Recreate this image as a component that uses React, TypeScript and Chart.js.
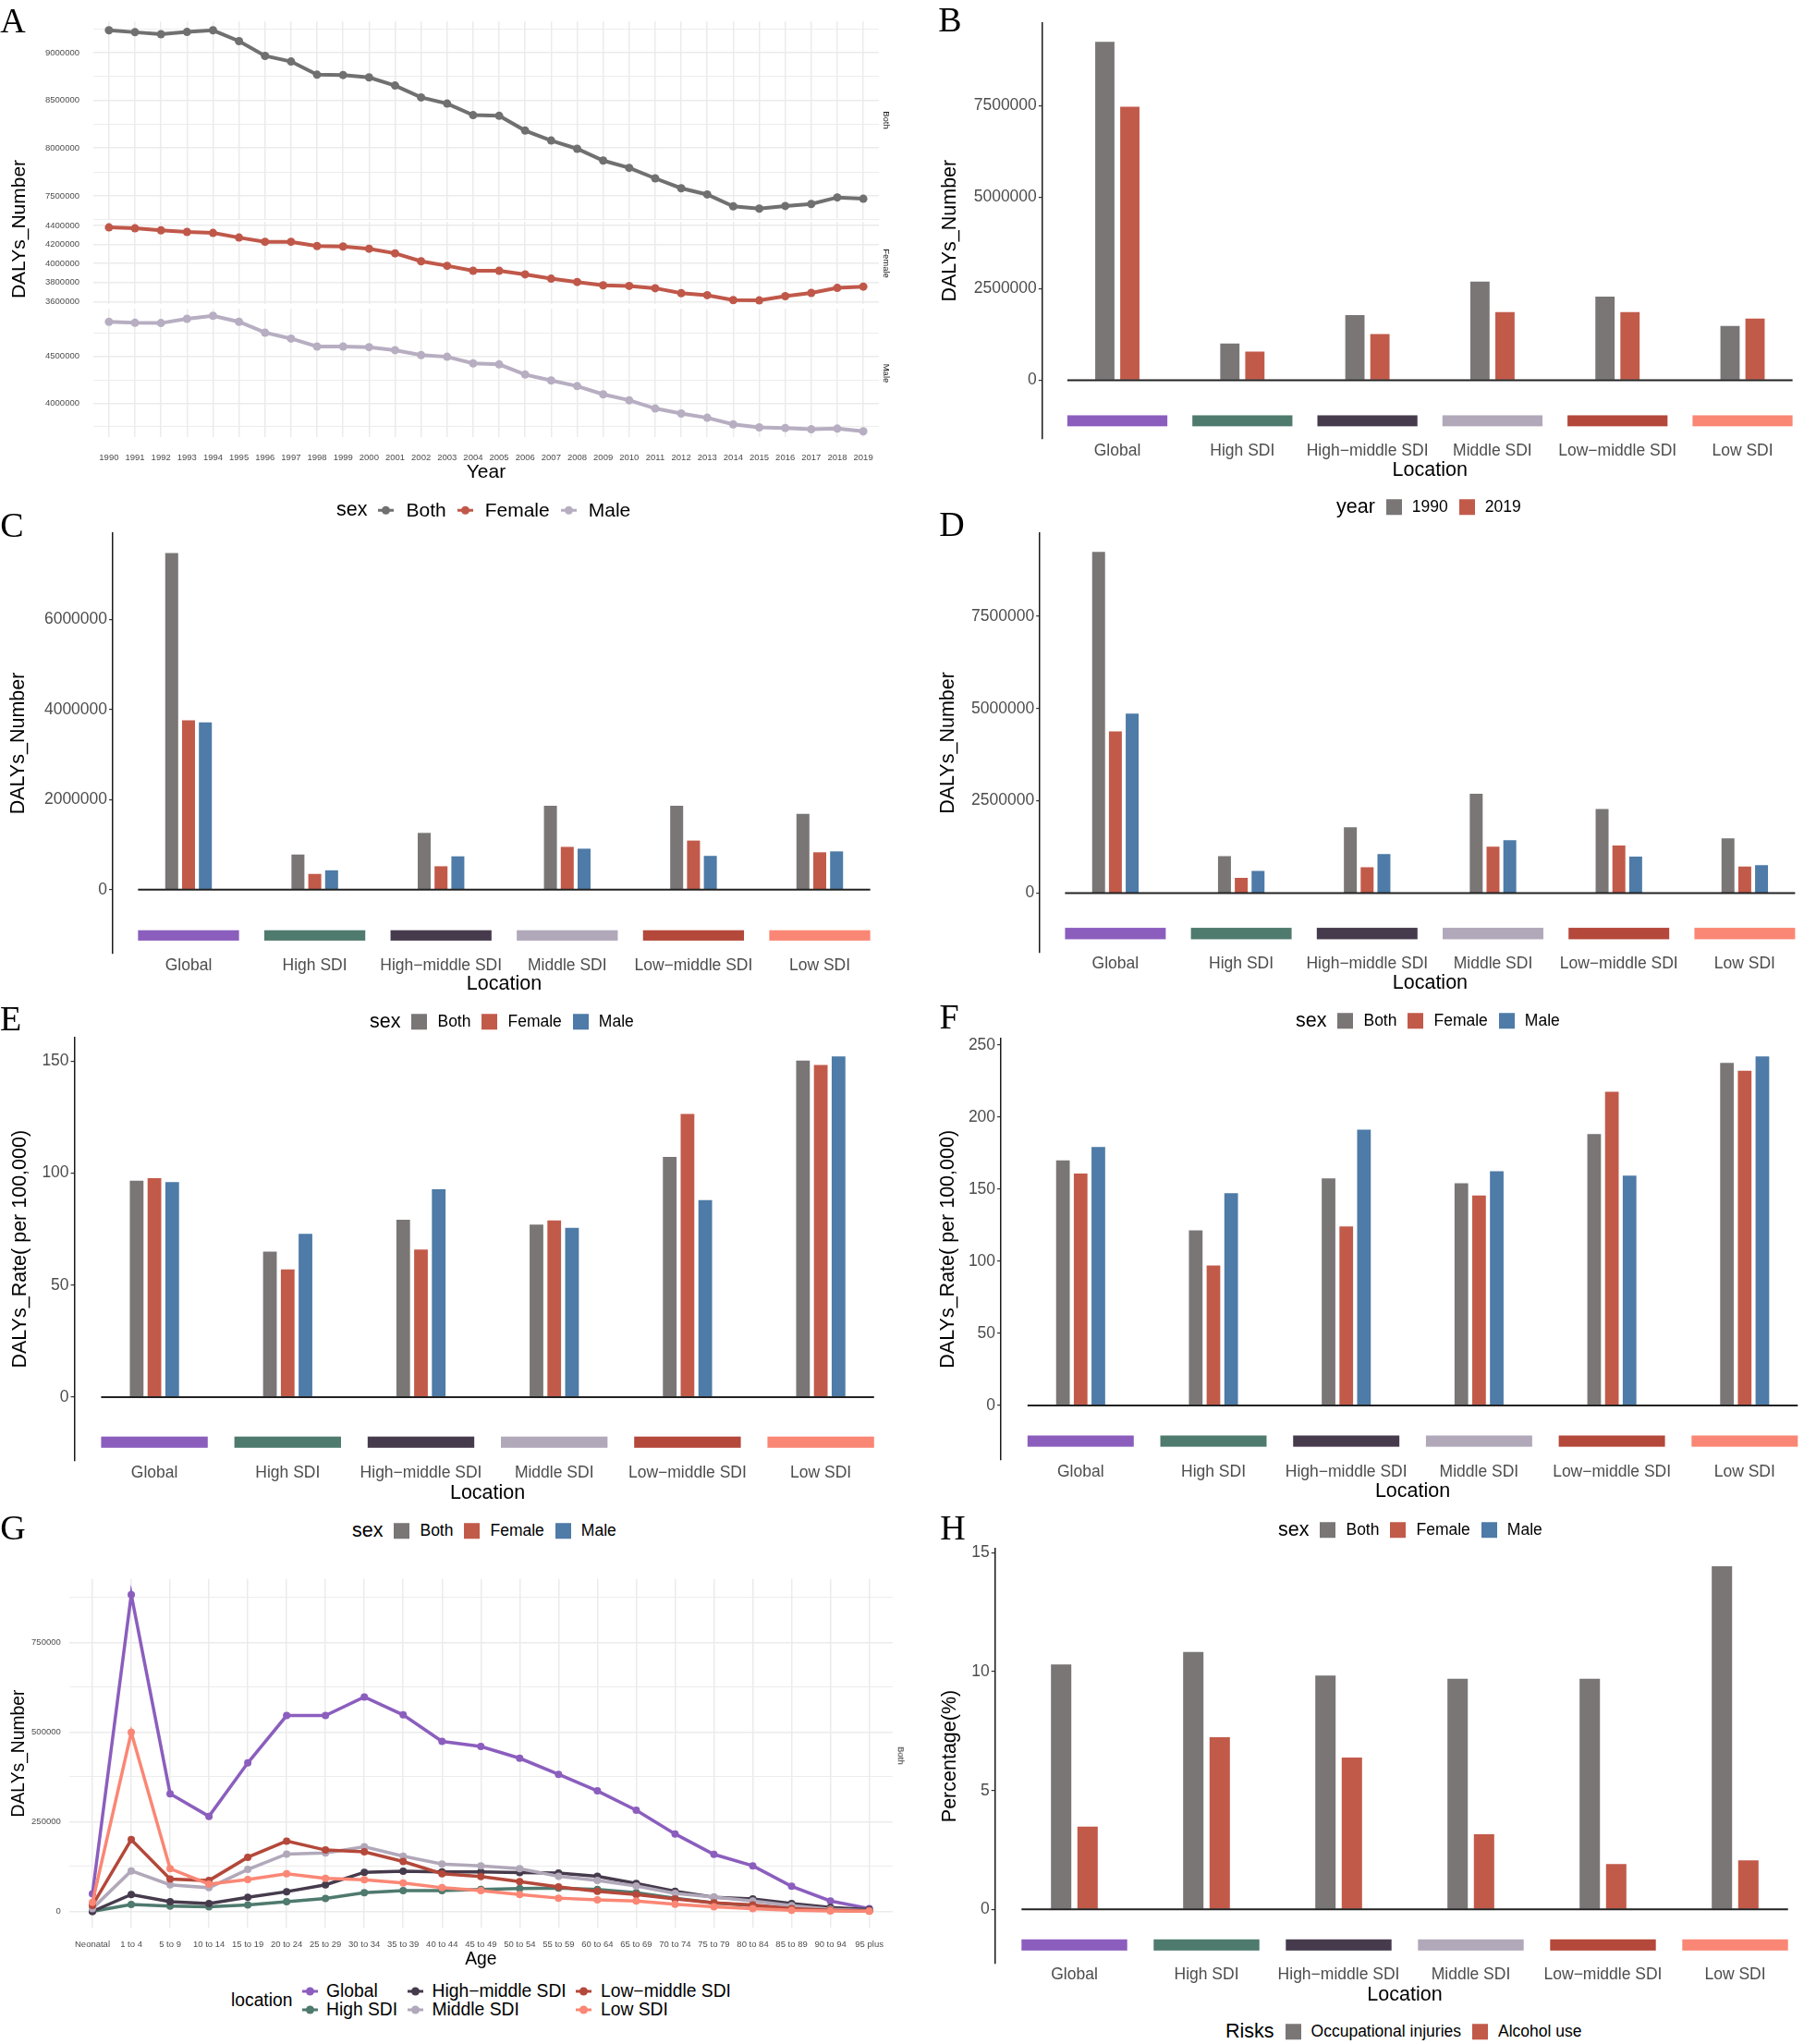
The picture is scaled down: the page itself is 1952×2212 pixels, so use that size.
import React, { useEffect, useRef } from 'react';
import { Chart, registerables } from 'chart.js';

Chart.register(...registerables);

const SANS = '"Liberation Sans", Arial, Helvetica, sans-serif';
const SERIF = '"Liberation Serif", "Times New Roman", Times, serif';
Chart.defaults.font.family = SANS;
Chart.defaults.color = '#4D4D4D';

// ---------------- DATA ----------------
const years = [1990, 1991, 1992, 1993, 1994, 1995, 1996, 1997, 1998, 1999, 2000, 2001, 2002, 2003, 2004, 2005, 2006, 2007, 2008, 2009, 2010, 2011, 2012, 2013, 2014, 2015, 2016, 2017, 2018, 2019];
const dalysBothByYear = [9234000, 9214000, 9193000, 9217000, 9234000, 9121000, 8966000, 8907000, 8769000, 8766000, 8741000, 8655000, 8531000, 8466000, 8345000, 8338000, 8183000, 8079000, 7993000, 7869000, 7793000, 7683000, 7579000, 7514000, 7390000, 7366000, 7393000, 7414000, 7483000, 7469000];
const dalysFemaleByYear = [4379000, 4369000, 4348000, 4331000, 4321000, 4272000, 4228000, 4228000, 4183000, 4179000, 4155000, 4107000, 4024000, 3976000, 3924000, 3924000, 3886000, 3841000, 3806000, 3772000, 3765000, 3741000, 3689000, 3668000, 3616000, 3613000, 3658000, 3692000, 3744000, 3758000];
const dalysMaleByYear = [4870000, 4859000, 4856000, 4901000, 4933000, 4870000, 4754000, 4690000, 4606000, 4606000, 4599000, 4567000, 4514000, 4496000, 4426000, 4415000, 4306000, 4243000, 4183000, 4095000, 4032000, 3944000, 3891000, 3845000, 3775000, 3743000, 3736000, 3722000, 3729000, 3701000];

const locations = ['Global', 'High SDI', 'High\u2212middle SDI', 'Middle SDI', 'Low\u2212middle SDI', 'Low SDI'];

// DALYs number, both sexes
const numBoth1990 = [9240000, 1000000, 1780000, 2690000, 2280000, 1480000];
const numBoth2019 = [7470000, 780000, 1260000, 1860000, 1860000, 1680000];
// DALYs number 2019 by sex
const numFemale2019 = [3760000, 350000, 520000, 950000, 1090000, 830000];
const numMale2019 = [3710000, 430000, 740000, 910000, 750000, 850000];
// DALYs number 1990 by sex
const numFemale1990 = [4380000, 415000, 700000, 1260000, 1290000, 720000];
const numMale1990 = [4860000, 600000, 1060000, 1430000, 990000, 760000];

// DALYs rate (per 100,000)
const rateBothE = [96.6, 65.0, 79.2, 77.1, 107.3, 150.3];
const rateFemaleE = [97.8, 57.0, 65.9, 78.9, 126.5, 148.3];
const rateMaleE = [96.0, 72.9, 92.8, 75.6, 88.0, 152.1];
const rateBothF = [170.0, 121.4, 157.4, 154.1, 188.3, 237.6];
const rateFemaleF = [160.8, 97.0, 124.2, 145.6, 217.6, 232.1];
const rateMaleF = [179.2, 147.2, 191.3, 162.4, 159.4, 242.1];

// Percentage by risk
const pctOccupational = [10.3, 10.83, 9.84, 9.7, 9.7, 14.43];
const pctAlcohol = [3.48, 7.24, 6.39, 3.16, 1.91, 2.06];

// Age pattern (panel G)
const ageGroups = ['Neonatal', '1 to 4', '5 to 9', '10 to 14', '15 to 19', '20 to 24', '25 to 29', '30 to 34', '35 to 39', '40 to 44', '45 to 49', '50 to 54', '55 to 59', '60 to 64', '65 to 69', '70 to 74', '75 to 79', '80 to 84', '85 to 89', '90 to 94', '95 plus'];
const ageGlobal = [48600, 883000, 328000, 265000, 414000, 546000, 546000, 598000, 548000, 474000, 460000, 427000, 382000, 336000, 282000, 216000, 159000, 127000, 70000, 29000, 8000];
const ageHigh = [0, 19000, 15000, 13000, 18000, 27000, 36000, 52000, 58000, 58000, 61000, 64000, 65000, 61000, 52000, 37000, 24000, 16000, 8000, 3000, 1000];
const ageHighMiddle = [0, 47000, 27000, 22000, 39000, 55000, 74000, 109000, 112000, 110000, 110000, 108000, 107000, 98000, 78000, 56000, 39000, 35000, 22000, 11000, 5000];
const ageMiddle = [8000, 113000, 74000, 66000, 117000, 160000, 163000, 180000, 154000, 132000, 127000, 119000, 98000, 86000, 71000, 50000, 40000, 29000, 16000, 6000, 2000];
const ageLowMiddle = [17000, 200000, 90000, 86000, 151000, 196000, 171000, 166000, 139000, 105000, 97000, 83000, 68000, 56000, 47000, 35000, 24000, 18000, 8000, 3000, 1000];
const ageLow = [25000, 499000, 119000, 76000, 89000, 105000, 92000, 88000, 79000, 66000, 58000, 47000, 37000, 32000, 29000, 20000, 13000, 8000, 3000, 1000, 500];

// tick values
const aBothTicks = [7250000, 7500000, 7750000, 8000000, 8250000, 8500000, 8750000, 9000000, 9250000];
const aFemaleTicks = [3600000, 3700000, 3800000, 3900000, 4000000, 4100000, 4200000, 4300000, 4400000];
const aMaleTicks = [3750000, 4000000, 4250000, 4500000, 4750000];
const gTicks = [0, 125000, 250000, 375000, 500000, 625000, 750000, 875000];
const ticksB = [0, 2500000, 5000000, 7500000];
const ticksC = [0, 2000000, 4000000, 6000000];
const ticksE = [0, 50, 100, 150];
const ticksF = [0, 50, 100, 150, 200, 250];
const ticksH = [0, 5, 10, 15];

// ---------------- STYLE ----------------
const locationColors = ['#8B5EBE', '#4F7A6E', '#463B4C', '#B1A8BA', '#B4483A', '#FA8775'];
const GREY = '#7A7676';
const RED = '#C25A4A';
const BLUE = '#4E7BA7';
const LINE_BOTH = '#707070';
const LINE_FEMALE = '#C0584A';
const LINE_MALE = '#B7AEC2';
const GRID = '#EBEBEB';

type Rect = { x: number; y: number; w: number; h: number };

const setTicks = (vals: number[]) => (scale: any) => {
  scale.ticks = vals.map((v) => ({ value: v }));
};

function ChartCanvas({ rect, build }: { rect: Rect; build: () => any }) {
  const ref = useRef<HTMLCanvasElement>(null);
  useEffect(() => {
    const chart = new Chart(ref.current as HTMLCanvasElement, build());
    return () => chart.destroy();
  }, []);
  return (
    <canvas
      ref={ref}
      width={rect.w}
      height={rect.h}
      style={{ position: 'absolute', left: rect.x, top: rect.y, width: rect.w, height: rect.h, display: 'block' }}
    />
  );
}

// -------- bar panels --------
type BarSpec = {
  canvas: Rect;
  x0: number;
  dx: number;
  top: number;
  bottom: number;
  yMin: number;
  yMax: number;
  yTicks: number[];
  labelY: number;
  titleY: number;
  yTitleX: number;
  yTitle: string;
  strip: [number, number];
  series: { label: string; data: number[]; color: string }[];
};

function stripPlugin(range: [number, number]) {
  return {
    id: 'locationStrips',
    afterDatasetsDraw(chart: any) {
      const { ctx, scales } = chart;
      const x = scales.x;
      const y = scales.y;
      ctx.save();
      locationColors.forEach((col, i) => {
        const l = x.getPixelForValue(i + 0.6);
        const r = x.getPixelForValue(i + 1.4);
        const t = y.getPixelForValue(range[0]);
        const b = y.getPixelForValue(range[1]);
        ctx.fillStyle = col;
        ctx.fillRect(l, t, r - l, b - t);
      });
      const yz = y.getPixelForValue(0);
      ctx.strokeStyle = '#222222';
      ctx.lineWidth = 2;
      ctx.beginPath();
      ctx.moveTo(x.getPixelForValue(0.6), yz);
      ctx.lineTo(x.getPixelForValue(6.4), yz);
      ctx.stroke();
      ctx.restore();
    },
  };
}

function barConfig(s: BarSpec) {
  const c = s.canvas;
  const left = s.x0 - 0.6 * s.dx;
  const right = Math.min(s.x0 + 5.6 * s.dx, c.x + c.w);
  const xMax = 1 + (right - s.x0) / s.dx;
  const tickSize = 17.5;
  const titleSize = 21.5;
  const tickLH = tickSize * 1.2;
  const titleLH = titleSize * 1.2;
  const xScaleH = c.y + c.h - s.bottom;
  return {
    type: 'bar',
    data: {
      datasets: s.series.map((se) => ({
        label: se.label,
        data: se.data.map((v, i) => ({ x: i + 1, y: v })),
        backgroundColor: se.color,
        borderWidth: 0,
        categoryPercentage: 0.4,
        barPercentage: 0.77,
      })),
    },
    options: {
      responsive: false,
      animation: false,
      layout: { padding: { left: 0, top: s.top - c.y, right: c.x + c.w - right, bottom: 0 } },
      plugins: { legend: { display: false }, tooltip: { enabled: false } },
      scales: {
        x: {
          type: 'linear',
          min: 0.4,
          max: xMax,
          offset: false,
          bounds: 'data',
          grid: { display: false, drawTicks: false, offset: false },
          border: { display: false },
          ticks: {
            autoSkip: false,
            maxRotation: 0,
            minRotation: 0,
            padding: s.labelY - s.bottom - tickLH / 2,
            color: '#4D4D4D',
            font: { size: tickSize, family: SANS },
            callback: (v: any) => locations[Math.round(v) - 1] ?? '',
          },
          afterBuildTicks: setTicks([1, 2, 3, 4, 5, 6]),
          afterFit: (sc: any) => {
            sc.height = xScaleH;
          },
          title: {
            display: true,
            text: 'Location',
            color: '#000',
            font: { size: titleSize, family: SANS },
            padding: { top: 0, bottom: c.y + c.h - s.titleY - titleLH / 2 },
          },
        },
        y: {
          type: 'linear',
          min: s.yMin,
          max: s.yMax,
          bounds: 'data',
          grid: { display: true, drawOnChartArea: false, drawTicks: true, tickLength: 4, color: '#333333', lineWidth: 1.2 },
          border: { display: true, color: '#1a1a1a', width: 1.5 },
          ticks: {
            padding: 2,
            color: '#4D4D4D',
            font: { size: tickSize, family: SANS },
            callback: (v: any) => String(v),
          },
          afterBuildTicks: setTicks(s.yTicks),
          afterFit: (sc: any) => {
            sc.width = left - c.x;
          },
          title: {
            display: true,
            text: s.yTitle,
            color: '#000',
            font: { size: titleSize, family: SANS },
            padding: { top: s.yTitleX - c.x - titleLH / 2, bottom: 0 },
          },
        },
      },
    },
    plugins: [stripPlugin(s.strip)],
  };
}

// -------- panel A facets --------
type FacetSpec = {
  canvas: Rect;
  top: number;
  bottom: number;
  yMin: number;
  yMax: number;
  ticks: number[];
  major: number;
  values: number[];
  color: string;
  showX: boolean;
};

function facetConfig(f: FacetSpec) {
  const c = f.canvas;
  const left = 101;
  const right = 951;
  const xScaleH = f.showX ? c.y + c.h - f.bottom : 0;
  const isMajor = (v: number) => Math.abs(v / f.major - Math.round(v / f.major)) < 1e-6;
  return {
    type: 'line',
    data: {
      datasets: [
        {
          data: years.map((yr, i) => ({ x: yr, y: f.values[i] })),
          borderColor: f.color,
          backgroundColor: f.color,
          pointBackgroundColor: f.color,
          borderWidth: 4,
          pointRadius: 4.5,
          pointBorderWidth: 0,
          tension: 0,
          clip: false,
        },
      ],
    },
    options: {
      responsive: false,
      animation: false,
      layout: { padding: { left: 0, top: f.top - c.y, right: c.x + c.w - right, bottom: f.showX ? 0 : c.y + c.h - f.bottom } },
      plugins: { legend: { display: false }, tooltip: { enabled: false } },
      scales: {
        x: {
          type: 'linear',
          min: 1989.4,
          max: 2019.6,
          bounds: 'data',
          border: { display: false },
          grid: { color: GRID, lineWidth: 1.5, drawTicks: false },
          ticks: {
            display: f.showX,
            autoSkip: false,
            maxRotation: 0,
            minRotation: 0,
            padding: 495 - f.bottom - 5.7,
            color: '#4D4D4D',
            font: { size: 9.5, family: SANS },
            callback: (v: any) => String(v),
          },
          afterBuildTicks: setTicks(years),
          afterFit: (sc: any) => {
            sc.height = xScaleH;
          },
          title: {
            display: f.showX,
            text: 'Year',
            color: '#000',
            font: { size: 21, family: SANS },
            padding: { top: 0, bottom: c.y + c.h - 511 - 12.6 },
          },
        },
        y: {
          type: 'linear',
          min: f.yMin,
          max: f.yMax,
          bounds: 'data',
          border: { display: false },
          grid: {
            color: GRID,
            drawTicks: false,
            lineWidth: (ctx: any) => (ctx.tick && isMajor(ctx.tick.value) ? 1.5 : 0.9),
          },
          ticks: {
            padding: 15,
            color: '#4D4D4D',
            font: { size: 9.5, family: SANS },
            callback: (v: any) => (isMajor(v) ? String(v) : ''),
          },
          afterBuildTicks: setTicks(f.ticks),
          afterFit: (sc: any) => {
            sc.width = left - c.x;
          },
        },
      },
    },
  };
}

// -------- panel G --------
function ageConfig() {
  const c = { x: 0, y: 1670, w: 980, h: 470 };
  const top = 1708.7;
  const bottom = 2086.3;
  const x0 = 100;
  const dx = 42.03;
  const left = x0 - 0.6 * dx;
  const right = x0 + 20.6 * dx;
  const isMajor = (v: number) => Math.abs(v / 250000 - Math.round(v / 250000)) < 1e-6;
  const series = [ageGlobal, ageHigh, ageHighMiddle, ageMiddle, ageLowMiddle, ageLow];
  return {
    type: 'line',
    data: {
      datasets: series.map((vals, k) => ({
        label: locations[k],
        data: vals.map((v, i) => ({ x: i + 1, y: v })),
        borderColor: locationColors[k],
        backgroundColor: locationColors[k],
        pointBackgroundColor: locationColors[k],
        borderWidth: 3.5,
        pointRadius: 4,
        pointBorderWidth: 0,
        tension: 0,
        clip: false,
        order: 5 - k,
      })),
    },
    options: {
      responsive: false,
      animation: false,
      layout: { padding: { left: 0, top: top - c.y, right: c.x + c.w - right, bottom: 0 } },
      plugins: { legend: { display: false }, tooltip: { enabled: false } },
      scales: {
        x: {
          type: 'linear',
          min: 0.4,
          max: 21.6,
          bounds: 'data',
          border: { display: false },
          grid: { color: GRID, lineWidth: 1.5, drawTicks: false },
          ticks: {
            autoSkip: false,
            maxRotation: 0,
            minRotation: 0,
            padding: 2104.5 - bottom - 5.7,
            color: '#4D4D4D',
            font: { size: 9.5, family: SANS },
            callback: (v: any) => ageGroups[Math.round(v) - 1] ?? '',
          },
          afterBuildTicks: setTicks(ageGroups.map((_, i) => i + 1)),
          afterFit: (sc: any) => {
            sc.height = c.y + c.h - bottom;
          },
          title: {
            display: true,
            text: 'Age',
            color: '#000',
            font: { size: 19.3, family: SANS },
            padding: { top: 0, bottom: c.y + c.h - 2120.3 - 11.6 },
          },
        },
        y: {
          type: 'linear',
          min: -45900,
          max: 927000,
          bounds: 'data',
          border: { display: false },
          grid: {
            color: GRID,
            drawTicks: false,
            lineWidth: (ctx: any) => (ctx.tick && isMajor(ctx.tick.value) ? 1.5 : 0.9),
          },
          ticks: {
            padding: 9,
            color: '#4D4D4D',
            font: { size: 9.5, family: SANS },
            callback: (v: any) => (isMajor(v) ? String(v) : ''),
          },
          afterBuildTicks: setTicks(gTicks),
          afterFit: (sc: any) => {
            sc.width = left - c.x;
          },
          title: {
            display: true,
            text: 'DALYs_Number',
            color: '#000',
            font: { size: 19.3, family: SANS },
            padding: { top: 21 - 11.6, bottom: 0 },
          },
        },
      },
    },
  };
}

// -------- HTML text helpers --------
function Label({ x, y, text, size, family = SANS, color = '#000', rotate = 0 }: any) {
  return (
    <div
      style={{
        position: 'absolute',
        left: x,
        top: y,
        transform: `translate(-50%, -50%) rotate(${rotate}deg)`,
        fontFamily: family,
        fontSize: size,
        lineHeight: 1,
        color,
        whiteSpace: 'nowrap',
      }}
    >
      {text}
    </div>
  );
}

function SquareKey({ color }: { color: string }) {
  return <span style={{ display: 'inline-block', width: 17, height: 17, background: color, flex: '0 0 auto' }} />;
}

function LinePointKey({ color }: { color: string }) {
  return (
    <svg width={17} height={12} style={{ display: 'block', flex: '0 0 auto' }}>
      <line x1={0} y1={6} x2={17} y2={6} stroke={color} strokeWidth={3} />
      <circle cx={8.5} cy={6} r={4.5} fill={color} />
    </svg>
  );
}

function Legend({ x, y, title, items, titleSize = 21.5, labelSize = 17.5, kind = 'square' }: any) {
  return (
    <div
      style={{
        position: 'absolute',
        left: x,
        top: y,
        transform: 'translateY(-50%)',
        display: 'flex',
        alignItems: 'center',
        fontFamily: SANS,
        lineHeight: 1,
        whiteSpace: 'nowrap',
        color: '#000',
      }}
    >
      <span style={{ fontSize: titleSize, marginRight: 12 }}>{title}</span>
      {items.map((it: any, i: number) => (
        <React.Fragment key={i}>
          {kind === 'square' ? <SquareKey color={it.color} /> : <LinePointKey color={it.color} />}
          <span style={{ fontSize: labelSize, marginLeft: kind === 'square' ? 11 : 13, marginRight: i < items.length - 1 ? 12 : 0 }}>
            {it.label}
          </span>
        </React.Fragment>
      ))}
    </div>
  );
}

const sexItems = [
  { label: 'Both', color: GREY },
  { label: 'Female', color: RED },
  { label: 'Male', color: BLUE },
];

// -------- specs --------
const specB: BarSpec = {
  canvas: { x: 976, y: 0, w: 1000, h: 525 },
  x0: 1209, dx: 135.3, top: 24.3, bottom: 475,
  yMin: -1605000, yMax: 9770000, yTicks: ticksB,
  labelY: 488.6, titleY: 509, yTitleX: 1027.7, yTitle: 'DALYs_Number',
  strip: [-960000, -1260000],
  series: [
    { label: '1990', data: numBoth1990, color: GREY },
    { label: '2019', data: numBoth2019, color: RED },
  ],
};
const specC: BarSpec = {
  canvas: { x: 0, y: 545, w: 976, h: 540 },
  x0: 204, dx: 136.6, top: 577, bottom: 1032,
  yMin: -1419000, yMax: 7911000, yTicks: ticksC,
  labelY: 1045, titleY: 1065, yTitleX: 20.5, yTitle: 'DALYs_Number',
  strip: [-900000, -1130000],
  series: [
    { label: 'Both', data: numBoth2019, color: GREY },
    { label: 'Female', data: numFemale2019, color: RED },
    { label: 'Male', data: numMale2019, color: BLUE },
  ],
};
const specD: BarSpec = {
  canvas: { x: 976, y: 545, w: 1000, h: 540 },
  x0: 1206.9, dx: 136.2, top: 577, bottom: 1031,
  yMin: -1614000, yMax: 9747000, yTicks: ticksB,
  labelY: 1043, titleY: 1064.5, yTitleX: 1025.8, yTitle: 'DALYs_Number',
  strip: [-940000, -1250000],
  series: [
    { label: 'Both', data: numBoth1990, color: GREY },
    { label: 'Female', data: numFemale1990, color: RED },
    { label: 'Male', data: numMale1990, color: BLUE },
  ],
};
const specE: BarSpec = {
  canvas: { x: 0, y: 1095, w: 976, h: 535 },
  x0: 167.1, dx: 144.2, top: 1122.5, bottom: 1581,
  yMin: -28.47, yMax: 160.7, yTicks: ticksE,
  labelY: 1594, titleY: 1615.6, yTitleX: 22.4, yTitle: 'DALYs_Rate( per 100,000)',
  strip: [-17.6, -22.6],
  series: [
    { label: 'Both', data: rateBothE, color: GREY },
    { label: 'Female', data: rateFemaleE, color: RED },
    { label: 'Male', data: rateMaleE, color: BLUE },
  ],
};
const specF: BarSpec = {
  canvas: { x: 976, y: 1095, w: 1000, h: 535 },
  x0: 1169.3, dx: 143.7, top: 1123.6, bottom: 1580,
  yMin: -37.9, yMax: 254.7, yTicks: ticksF,
  labelY: 1593.4, titleY: 1614.5, yTitleX: 1026.4, yTitle: 'DALYs_Rate( per 100,000)',
  strip: [-20.9, -28.7],
  series: [
    { label: 'Both', data: rateBothF, color: GREY },
    { label: 'Female', data: rateFemaleF, color: RED },
    { label: 'Male', data: rateMaleF, color: BLUE },
  ],
};
const specH: BarSpec = {
  canvas: { x: 976, y: 1645, w: 1000, h: 535 },
  x0: 1162.5, dx: 143.0, top: 1676, bottom: 2125,
  yMin: -2.28, yMax: 15.17, yTicks: ticksH,
  labelY: 2137, titleY: 2159, yTitleX: 1027.7, yTitle: 'Percentage(%)',
  strip: [-1.26, -1.73],
  series: [
    { label: 'Occupational injuries', data: pctOccupational, color: GREY },
    { label: 'Alcohol use', data: pctAlcohol, color: RED },
  ],
};

const facetBoth: FacetSpec = {
  canvas: { x: 0, y: 0, w: 980, h: 280 }, top: 23.2, bottom: 237.5,
  yMin: 7252000, yMax: 9327000, ticks: aBothTicks, major: 500000,
  values: dalysBothByYear, color: LINE_BOTH, showX: false,
};
const facetFemale: FacetSpec = {
  canvas: { x: 0, y: 200, w: 980, h: 170 }, top: 240, bottom: 328.6,
  yMin: 3579000, yMax: 4438000, ticks: aFemaleTicks, major: 200000,
  values: dalysFemaleByYear, color: LINE_FEMALE, showX: false,
};
const facetMale: FacetSpec = {
  canvas: { x: 0, y: 295, w: 980, h: 235 }, top: 334, bottom: 473.2,
  yMin: 3637000, yMax: 5010000, ticks: aMaleTicks, major: 500000,
  values: dalysMaleByYear, color: LINE_MALE, showX: true,
};

export default function App() {
  const gLegendCols = [
    { kx: 335.6, tx: 353 },
    { kx: 449, tx: 467.5 },
    { kx: 631, tx: 650 },
  ];
  const gRows = [2155, 2175];
  return (
    <div style={{ position: 'absolute', left: 0, top: 0, width: 1952, height: 2212, background: '#fff', overflow: 'hidden' }}>
      <ChartCanvas rect={facetBoth.canvas} build={() => facetConfig(facetBoth)} />
      <ChartCanvas rect={facetFemale.canvas} build={() => facetConfig(facetFemale)} />
      <ChartCanvas rect={facetMale.canvas} build={() => facetConfig(facetMale)} />
      <ChartCanvas rect={specB.canvas} build={() => barConfig(specB)} />
      <ChartCanvas rect={specC.canvas} build={() => barConfig(specC)} />
      <ChartCanvas rect={specD.canvas} build={() => barConfig(specD)} />
      <ChartCanvas rect={specE.canvas} build={() => barConfig(specE)} />
      <ChartCanvas rect={specF.canvas} build={() => barConfig(specF)} />
      <ChartCanvas rect={{ x: 0, y: 1670, w: 980, h: 470 }} build={() => ageConfig()} />
      <ChartCanvas rect={specH.canvas} build={() => barConfig(specH)} />

      {/* panel letters */}
      <Label x={14} y={21.5} text="A" size={38} family={SERIF} />
      <Label x={1028} y={21} text="B" size={38} family={SERIF} />
      <Label x={13} y={568} text="C" size={38} family={SERIF} />
      <Label x={1030} y={567} text="D" size={38} family={SERIF} />
      <Label x={11.5} y={1102} text="E" size={38} family={SERIF} />
      <Label x={1027} y={1099.5} text="F" size={38} family={SERIF} />
      <Label x={14} y={1653} text="G" size={38} family={SERIF} />
      <Label x={1031} y={1653} text="H" size={38} family={SERIF} />

      {/* panel A extras */}
      <Label x={19} y={248} text="DALYs_Number" size={21} rotate={-90} />
      <Label x={958.8} y={130} text="Both" size={9.5} rotate={90} color="#1A1A1A" />
      <Label x={958.8} y={284.5} text="Female" size={9.5} rotate={90} color="#1A1A1A" />
      <Label x={958.8} y={403.5} text="Male" size={9.5} rotate={90} color="#1A1A1A" />
      <Legend
        x={364}
        y={552}
        title="sex"
        titleSize={21.5}
        labelSize={21}
        kind="linepoint"
        items={[
          { label: 'Both', color: LINE_BOTH },
          { label: 'Female', color: LINE_FEMALE },
          { label: 'Male', color: LINE_MALE },
        ]}
      />

      {/* legends of bar panels */}
      <Legend x={1446} y={549} title="year" items={[{ label: '1990', color: GREY }, { label: '2019', color: RED }]} />
      <Legend x={400} y={1106} title="sex" items={sexItems} />
      <Legend x={1402} y={1105} title="sex" items={sexItems} />
      <Legend x={381} y={1657} title="sex" items={sexItems} />
      <Legend x={1383} y={1656} title="sex" items={sexItems} />
      <Legend
        x={1326}
        y={2199}
        title="Risks"
        items={[
          { label: 'Occupational injuries', color: GREY },
          { label: 'Alcohol use', color: RED },
        ]}
      />

      {/* panel G extras */}
      <Label x={975} y={1900} text="Both" size={9.5} rotate={90} color="#1A1A1A" />
      <div style={{ position: 'absolute', left: 250, top: 2165, transform: 'translateY(-50%)', fontFamily: SANS, fontSize: 19.3, lineHeight: 1 }}>
        location
      </div>
      {locations.map((loc, k) => {
        const col = gLegendCols[Math.floor(k / 2)];
        const ry = gRows[k % 2];
        return (
          <React.Fragment key={loc}>
            <div style={{ position: 'absolute', left: col.kx - 8.5, top: ry - 6 }}>
              <LinePointKey color={locationColors[k]} />
            </div>
            <div
              style={{
                position: 'absolute',
                left: col.tx,
                top: ry,
                transform: 'translateY(-50%)',
                fontFamily: SANS,
                fontSize: 19.3,
                lineHeight: 1,
                whiteSpace: 'nowrap',
              }}
            >
              {loc}
            </div>
          </React.Fragment>
        );
      })}
    </div>
  );
}
